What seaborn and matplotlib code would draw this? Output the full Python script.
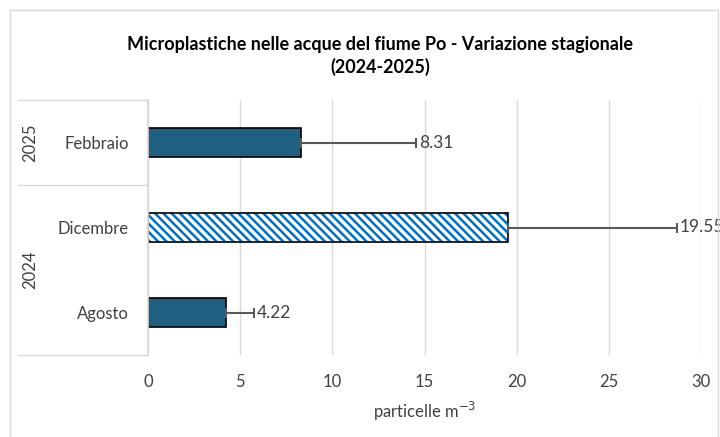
import pandas as pd
import matplotlib.pyplot as plt
import seaborn as sns
from matplotlib.lines import Line2D
from matplotlib.patches import Rectangle

sns.set_theme(style='white')
plt.rcParams['font.family'] = ['Lato', 'DejaVu Sans']
plt.rcParams['hatch.linewidth'] = 1.8

# data
mesi = ['Febbraio', 'Dicembre', 'Agosto']
anni = ['2025', '2024', '2024']
valori = [8.31, 19.55, 4.22]
errori = [6.23, 9.15, 1.53]
etichette = ['8.31', '19.55', '4.22']
xticks = [0, 5, 10, 15, 20, 25, 30]

df = pd.DataFrame({'mese': mesi, 'valore': valori})

fig = plt.figure(figsize=(7.2, 4.37), dpi=100)
ax = fig.add_axes([148/720, 1-355/437, 553/720, 255/437])

sns.barplot(data=df, x='valore', y='mese', orient='h', color='#1f5f7f',
            width=0.35, edgecolor='black', linewidth=1.2, ax=ax, saturation=1)

# hatched Dicembre bar
p = ax.patches[1]
p.set_facecolor('white')
p.set_hatch('\\\\\\\\')
p._hatch_color = (0/255, 112/255, 192/255, 1)

ax.errorbar(valori, range(len(mesi)), xerr=[[0]*len(errori), errori], fmt='none',
            ecolor='#595959', elinewidth=1.5, capsize=3.5, capthick=1.5, zorder=3)

for i, (v, e, t) in enumerate(zip(valori, errori, etichette)):
    ax.text(v + e + 0.15, i, t, va='center', ha='left', fontsize=12.5, color='#404040')

ax.set_xlim(0, 30)
ax.set_ylim(2.5, -0.5)
ax.set_xticks(xticks)
ax.grid(axis='x', color='#d9d9d9', linewidth=1)
ax.set_axisbelow(True)
for s in ['top', 'right', 'bottom']:
    ax.spines[s].set_visible(False)
ax.spines['left'].set_color('#d9d9d9')
ax.tick_params(axis='x', length=0, labelsize=12, labelcolor='#404040', pad=14)
ax.tick_params(axis='y', length=0, labelsize=12, labelcolor='#404040', pad=14)
ax.set_ylabel('')
ax.set_xlabel('particelle m$^{-3}$', fontsize=12, color='#404040', labelpad=7)

# table lines for the year groups
x0 = (18 - 148) / 553
for yy in [1, 2/3, 0]:
    ax.add_line(Line2D([x0, 0], [yy, yy], transform=ax.transAxes, color='#d9d9d9',
                       linewidth=1, clip_on=False))
ax.text(-0.213, 0, '2025', transform=ax.get_yaxis_transform(), rotation=90,
        ha='center', va='center', fontsize=12, color='#404040')
ax.text(-0.213, 1.5, '2024', transform=ax.get_yaxis_transform(), rotation=90,
        ha='center', va='center', fontsize=12, color='#404040')

fig.suptitle('Microplastiche nelle acque del fiume Po - Variazione stagionale\n(2024-2025)',
             x=380/720, y=1-36/437, fontsize=13, fontweight='bold',
             color='black', va='top', linespacing=1.3)

fig.add_artist(Rectangle((10/720, -0.01), 708/720, 1-10/437+0.01, transform=fig.transFigure,
                         fill=False, edgecolor='#d9d9d9', linewidth=1))

fig.savefig('out.png', dpi=100)
